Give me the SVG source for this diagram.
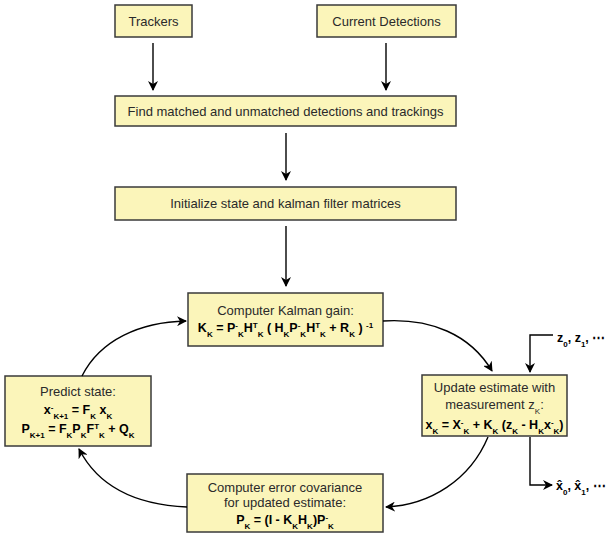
<svg xmlns="http://www.w3.org/2000/svg" width="609" height="536" viewBox="0 0 609 536">
<defs>
<style>
.box{fill:#FBF5BA;stroke:#3a3a3a;stroke-width:1.5}
text{font-family:"Liberation Sans",Arial,sans-serif;font-size:13px;fill:#2a2a2a;text-anchor:middle}
.b{font-weight:bold;fill:#000;font-size:12.5px}
.s{font-size:8px}
.ln{fill:none;stroke:#000;stroke-width:1.4}
</style>
<marker id="ah" markerWidth="10" markerHeight="10" refX="9" refY="5" orient="auto" markerUnits="userSpaceOnUse">
<path d="M0,0 L10,5 L0,10 L3,5 z" fill="#000"/>
</marker>
</defs>
<rect width="609" height="536" fill="#fff"/>

<g id="trackers"><rect class="box" x="115" y="5" width="77" height="32"/><text x="153.5" y="25.5">Trackers</text></g>
<g id="detections"><rect class="box" x="317" y="5" width="139" height="32"/><text x="386.5" y="25.5">Current Detections</text></g>
<g id="match"><rect class="box" x="115" y="96" width="341" height="30"/><text x="285.5" y="115.5">Find matched and unmatched detections and trackings</text></g>
<g id="init"><rect class="box" x="115" y="187" width="341" height="33"/><text x="285.5" y="208">Initialize state and kalman filter matrices</text></g>

<g id="gain"><rect class="box" x="188" y="293" width="195" height="53"/>
<text x="285.5" y="315">Computer Kalman gain:</text>
<text x="285.5" y="332" class="b">K<tspan class="s" baseline-shift="sub">K</tspan> = P<tspan class="s" baseline-shift="super">-</tspan><tspan class="s" baseline-shift="sub">K</tspan>H<tspan class="s" baseline-shift="super">T</tspan><tspan class="s" baseline-shift="sub">K</tspan> ( H<tspan class="s" baseline-shift="sub">K</tspan>P<tspan class="s" baseline-shift="super">-</tspan><tspan class="s" baseline-shift="sub">K</tspan>H<tspan class="s" baseline-shift="super">T</tspan><tspan class="s" baseline-shift="sub">K</tspan> + R<tspan class="s" baseline-shift="sub">K</tspan> ) <tspan class="s" baseline-shift="super">-1</tspan></text>
</g>

<g id="predict"><rect class="box" x="5" y="376" width="146" height="70"/>
<text x="78" y="396">Predict state:</text>
<text x="78" y="414" class="b">x<tspan class="s" baseline-shift="super">-</tspan><tspan class="s" baseline-shift="sub">K+1</tspan> = F<tspan class="s" baseline-shift="sub">K</tspan> x<tspan class="s" baseline-shift="sub">K</tspan></text>
<text x="78" y="433" class="b">P<tspan class="s" baseline-shift="sub">K+1</tspan> = F<tspan class="s" baseline-shift="sub">K</tspan>P<tspan class="s" baseline-shift="sub">K</tspan>F<tspan class="s" baseline-shift="super">T</tspan><tspan class="s" baseline-shift="sub">K</tspan> + Q<tspan class="s" baseline-shift="sub">K</tspan></text>
</g>

<g id="update"><rect class="box" x="422" y="375" width="145" height="61"/>
<text x="494.5" y="392">Update estimate with</text>
<text x="494.5" y="409">measurement z<tspan class="s" baseline-shift="sub">K</tspan>:</text>
<text x="494.5" y="429" class="b">x<tspan class="s" baseline-shift="sub">K</tspan> = X<tspan class="s" baseline-shift="super">-</tspan><tspan class="s" baseline-shift="sub">K</tspan> + K<tspan class="s" baseline-shift="sub">K</tspan> (z<tspan class="s" baseline-shift="sub">K</tspan> - H<tspan class="s" baseline-shift="sub">K</tspan>x<tspan class="s" baseline-shift="super">-</tspan><tspan class="s" baseline-shift="sub">K</tspan>)</text>
</g>

<g id="covariance"><rect class="box" x="187" y="474" width="196" height="58"/>
<text x="285" y="492">Computer error covariance</text>
<text x="285" y="507">for updated estimate:</text>
<text x="285" y="524" class="b">P<tspan class="s" baseline-shift="sub">K</tspan> = (I - K<tspan class="s" baseline-shift="sub">K</tspan>H<tspan class="s" baseline-shift="sub">K</tspan>)P<tspan class="s" baseline-shift="super">-</tspan><tspan class="s" baseline-shift="sub">K</tspan></text>
</g>

<g id="zin"><text x="557" y="342" class="b" style="text-anchor:start">z<tspan class="s" baseline-shift="sub">0</tspan>, z<tspan class="s" baseline-shift="sub">1</tspan>, ⋯</text></g>
<g id="xout"><text x="556" y="490" class="b" style="text-anchor:start">x̂<tspan class="s" baseline-shift="sub">0</tspan>, x̂<tspan class="s" baseline-shift="sub">1</tspan>, ⋯</text></g>

<g id="connectors">
<path class="ln" d="M153,43 V90" marker-end="url(#ah)"/>
<path class="ln" d="M386,43 V90" marker-end="url(#ah)"/>
<path class="ln" d="M286,133 V180" marker-end="url(#ah)"/>
<path class="ln" d="M286,226 V286" marker-end="url(#ah)"/>
<path class="ln" d="M383,321 C430,318 470,334 492,371" marker-end="url(#ah)"/>
<path class="ln" d="M488,437 C470,480 430,505 386,507" marker-end="url(#ah)"/>
<path class="ln" d="M187,507 C140,505 100,490 79,449" marker-end="url(#ah)"/>
<path class="ln" d="M82,376 C100,340 140,322 186,321" marker-end="url(#ah)"/>
<path class="ln" d="M553,335 H530 V372" marker-end="url(#ah)"/>
<path class="ln" d="M530,437 V485 H552" marker-end="url(#ah)"/>
</g>
</svg>
